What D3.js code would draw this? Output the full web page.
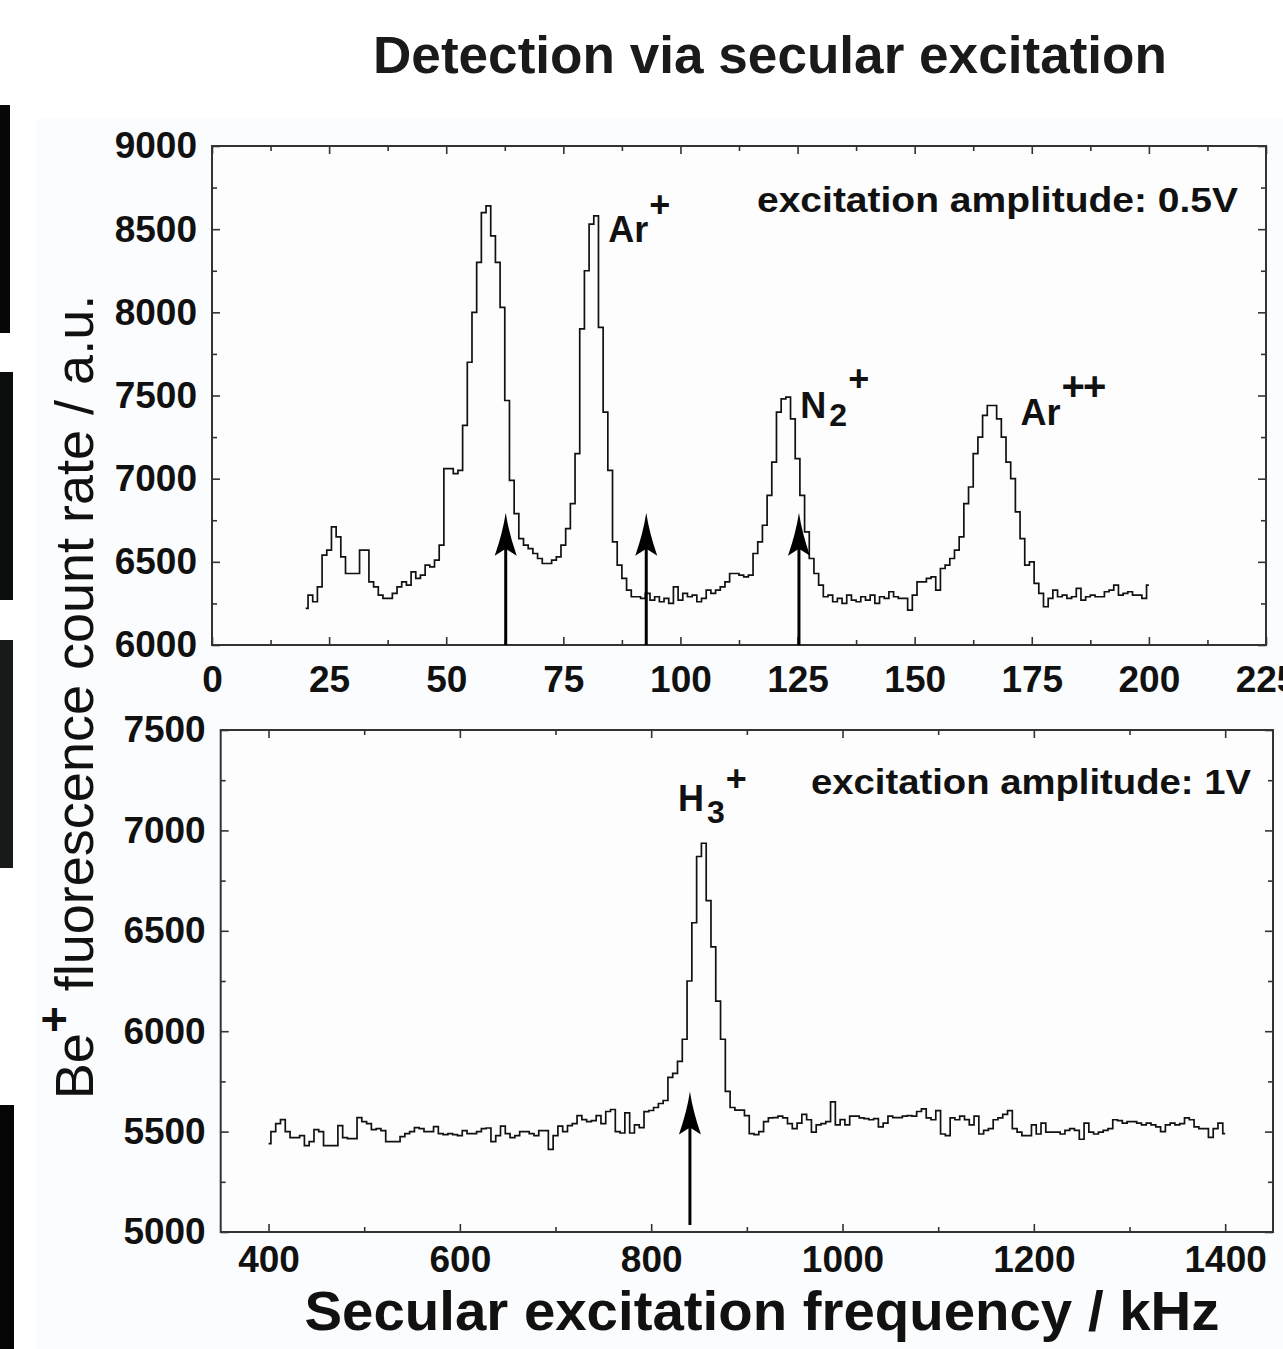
<!DOCTYPE html>
<html><head><meta charset="utf-8">
<script src="https://cdn.jsdelivr.net/npm/d3@7"></script>
<style>html,body{margin:0;padding:0;background:#fff;} svg{display:block;}</style>
</head><body>
<script>
// ---------------- data ----------------
const titleText = "Detection via secular excitation";
const xAxisTitle = "Secular excitation frequency / kHz";
const yAxisTitleParts = ["Be", "+", " fluorescence count rate / a.u."];

// top panel (excitation amplitude 0.5 V)
const topFreq = [20,21,22,23,24,25,26,27,28,29,30,31,32,33,34,35,36,37,38,39,
 40,41,42,43,44,45,46,47,48,49,50,51,52,53,54,55,56,57,58,59,
 60,61,62,63,64,65,66,67,68,69,70,71,72,73,74,75,76,77,78,79,
 80,81,82,83,84,85,86,87,88,89,90,91,92,93,94,95,96,97,98,99,
 100,101,102,103,104,105,106,107,108,109,110,111,112,113,114,115,116,117,118,119,
 120,121,122,123,124,125,126,127,128,129,130,131,132,133,134,135,136,137,138,139,
 140,141,142,143,144,145,146,147,148,149,150,151,152,153,154,155,156,157,158,159,
 160,161,162,163,164,165,166,167,168,169,170,171,172,173,174,175,176,177,178,179,
 180,181,182,183,184,185,186,187,188,189,190,191,192,193,194,195,196,197,198,199,200];
const topCounts = [6220,6300,6260,6350,6540,6570,6710,6650,6530,6430,6430,6430,6570,6570,6380,6350,6300,6280,6280,6310,
 6350,6380,6360,6440,6400,6420,6480,6470,6510,6600,7060,7060,7030,7050,7320,7700,8000,8300,8600,8640,
 8460,8300,8030,7470,6990,6790,6640,6600,6580,6550,6520,6490,6490,6510,6530,6600,6700,6850,7150,7900,
 8250,8530,8580,7910,7400,7050,6620,6480,6400,6330,6290,6290,6280,6310,6270,6290,6260,6280,6250,6350,
 6270,6310,6290,6300,6260,6280,6330,6310,6330,6350,6380,6430,6430,6420,6410,6420,6550,6620,6720,6900,
 7100,7400,7480,7490,7360,7120,6900,6680,6520,6430,6360,6290,6300,6260,6280,6250,6300,6270,6260,6290,
 6270,6300,6250,6290,6280,6320,6290,6280,6280,6210,6300,6380,6380,6400,6410,6330,6460,6480,6520,6570,
 6650,6850,6950,7150,7250,7380,7440,7440,7360,7250,7100,7000,6800,6640,6480,6500,6370,6310,6230,6280,
 6330,6290,6300,6280,6290,6340,6270,6290,6300,6290,6290,6320,6330,6360,6300,6310,6320,6300,6300,6280,6360];
const topXMajor = [0,25,50,75,100,125,150,175,200,225];
const topXMinor = [12.5,37.5,62.5,87.5,112.5,137.5,162.5,187.5,212.5];
const topYMajor = [6000,6500,7000,7500,8000,8500,9000];
const topYMinor = [6250,6750,7250,7750,8250,8750];
const topArrowFreqs = [62.7, 92.7, 125.3];
const topArrowTip = 6795;
const topNote = "excitation amplitude: 0.5V";
const topIons = [
  {base:"Ar", sub:"",  sup:"+",  f:84.6,  v:8422},
  {base:"N",  sub:"2", sup:"+",  f:125.6, v:7364},
  {base:"Ar", sub:"",  sup:"++", f:172.6, v:7322}
];

// bottom panel (excitation amplitude 1 V)
const botFreq = [400,405,410,415,420,425,430,435,440,445,450,455,460,465,470,475,480,485,490,495,
 500,505,510,515,520,525,530,535,540,545,550,555,560,565,570,575,580,585,590,595,
 600,605,610,615,620,625,630,635,640,645,650,655,660,665,670,675,680,685,690,695,
 700,705,710,715,720,725,730,735,740,745,750,755,760,765,770,775,780,785,790,795,
 800,805,810,815,820,825,830,835,840,845,850,855,860,865,870,875,880,885,890,895,
 900,905,910,915,920,925,930,935,940,945,950,955,960,965,970,975,980,985,990,995,
 1000,1005,1010,1015,1020,1025,1030,1035,1040,1045,1050,1055,1060,1065,1070,1075,1080,1085,1090,1095,
 1100,1105,1110,1115,1120,1125,1130,1135,1140,1145,1150,1155,1160,1165,1170,1175,1180,1185,1190,1195,
 1200,1205,1210,1215,1220,1225,1230,1235,1240,1245,1250,1255,1260,1265,1270,1275,1280,1285,1290,1295,
 1300,1305,1310,1315,1320,1325,1330,1335,1340,1345,1350,1355,1360,1365,1370,1375,1380,1385,1390,1395,1400];
const botCounts = [5440,5500,5540,5560,5500,5470,5470,5480,5430,5450,5510,5500,5430,5430,5430,5530,5470,5465,5465,5570,
 5550,5540,5510,5515,5505,5450,5450,5450,5475,5490,5500,5520,5515,5500,5500,5525,5490,5485,5490,5485,
 5480,5505,5490,5490,5500,5515,5518,5450,5480,5527,5490,5470,5480,5500,5500,5490,5480,5505,5505,5411,
 5480,5527,5500,5530,5540,5580,5560,5550,5555,5580,5540,5600,5610,5500,5493,5593,5493,5533,5520,5599,
 5605,5620,5640,5655,5770,5790,5850,5960,6250,6540,6870,6936,6650,6420,6150,5960,5700,5620,5607,5607,
 5580,5490,5485,5500,5550,5568,5570,5577,5568,5540,5515,5542,5586,5559,5497,5533,5540,5550,5648,5533,
 5560,5533,5577,5577,5568,5565,5559,5565,5524,5542,5577,5570,5570,5577,5580,5577,5600,5613,5568,5559,
 5604,5488,5480,5568,5559,5577,5560,5533,5577,5488,5506,5515,5559,5568,5586,5604,5515,5497,5480,5480,
 5533,5488,5542,5497,5497,5497,5488,5506,5515,5506,5462,5542,5497,5488,5497,5506,5515,5559,5555,5542,
 5550,5550,5542,5533,5542,5533,5524,5500,5533,5542,5533,5540,5568,5559,5524,5515,5515,5471,5515,5542,5490];
const botXMajor = [400,600,800,1000,1200,1400];
const botXMinor = [500,700,900,1100,1300];
const botYMajor = [5000,5500,6000,6500,7000,7500];
const botYMinor = [5250,5750,6250,6750,7250];
const botArrowFreqs = [840.5];
const botArrowTip = 5700;
const botArrowTail = 5035;
const botNote = "excitation amplitude: 1V";
const botIons = [{base:"H", sub:"3", sup:"+", f:828, v:7095}];

// ---------------- drawing ----------------
const W = 1283, H = 1349;
const FONT = "'Liberation Sans', Arial, Helvetica, sans-serif";
const svg = d3.select("body").append("svg").attr("width", W).attr("height", H)
  .style("font-family", FONT);

svg.append("rect").attr("width", W).attr("height", H).attr("fill", "#ffffff");
svg.append("rect").attr("x", 36).attr("y", 118).attr("width", W - 36).attr("height", H - 118).attr("fill", "#fbfcfd");

// dark strips at the left edge (scan artefacts)
const strips = [
  {x:0, y:105, w:10, h:228, c:"#070707"},
  {x:0, y:372, w:13, h:228, c:"#0b0d0d"},
  {x:0, y:640, w:13, h:228, c:"#181a1a"},
  {x:0, y:1105, w:14, h:244, c:"#050505"}
];
svg.selectAll("rect.strip").data(strips).join("rect").attr("class", "strip")
  .attr("x", d => d.x).attr("y", d => d.y).attr("width", d => d.w).attr("height", d => d.h).attr("fill", d => d.c);

// title
svg.append("text").attr("x", 770).attr("y", 73).attr("text-anchor", "middle")
  .attr("font-size", 51).attr("font-weight", "bold").attr("fill", "#1a1a1a")
  .attr("textLength", 794).attr("lengthAdjust", "spacingAndGlyphs").text(titleText);

function panel(cfg) {
  const x = d3.scaleLinear().domain(cfg.xDomain).range([cfg.left, cfg.right]);
  const y = d3.scaleLinear().domain(cfg.yDomain).range([cfg.bottom, cfg.top]);
  const g = svg.append("g");

  g.append("rect").attr("x", cfg.left).attr("y", cfg.top)
    .attr("width", cfg.right - cfg.left).attr("height", cfg.bottom - cfg.top)
    .attr("fill", "#fdfdfe");

  const styleAxis = sel => {
    sel.select(".domain").remove();
    sel.selectAll(".tick line").attr("stroke", "#333").attr("stroke-width", 1.6);
    sel.selectAll(".tick text").attr("font-size", 37).attr("font-weight", "bold")
      .attr("fill", "#111").attr("font-family", FONT);
  };
  // bottom axis with labels
  g.append("g").attr("transform", `translate(0,${cfg.bottom})`)
    .call(d3.axisBottom(x).tickValues(cfg.xMajor).tickSize(-8).tickPadding(cfg.xPad).tickFormat(d3.format("d")))
    .call(styleAxis);
  g.append("g").attr("transform", `translate(0,${cfg.bottom})`)
    .call(d3.axisBottom(x).tickValues(cfg.xMinor).tickSize(-5).tickFormat(""))
    .call(styleAxis);
  // top axis
  g.append("g").attr("transform", `translate(0,${cfg.top})`)
    .call(d3.axisTop(x).tickValues(cfg.xMajor).tickSize(-8).tickFormat(""))
    .call(styleAxis);
  g.append("g").attr("transform", `translate(0,${cfg.top})`)
    .call(d3.axisTop(x).tickValues(cfg.xMinor).tickSize(-5).tickFormat(""))
    .call(styleAxis);
  // left axis with labels
  g.append("g").attr("transform", `translate(${cfg.left},0)`)
    .call(d3.axisLeft(y).tickValues(cfg.yMajor).tickSize(-8).tickPadding(15).tickFormat(d3.format("d")))
    .call(styleAxis);
  g.append("g").attr("transform", `translate(${cfg.left},0)`)
    .call(d3.axisLeft(y).tickValues(cfg.yMinor).tickSize(-5).tickFormat(""))
    .call(styleAxis);
  // right axis
  g.append("g").attr("transform", `translate(${cfg.right},0)`)
    .call(d3.axisRight(y).tickValues(cfg.yMajor).tickSize(-8).tickFormat(""))
    .call(styleAxis);
  g.append("g").attr("transform", `translate(${cfg.right},0)`)
    .call(d3.axisRight(y).tickValues(cfg.yMinor).tickSize(-5).tickFormat(""))
    .call(styleAxis);

  // frame
  g.append("rect").attr("x", cfg.left).attr("y", cfg.top)
    .attr("width", cfg.right - cfg.left).attr("height", cfg.bottom - cfg.top)
    .attr("fill", "none").attr("stroke", "#333").attr("stroke-width", 2);

  // spectrum (step line)
  const pts = d3.zip(cfg.freq, cfg.counts);
  g.append("path").datum(pts)
    .attr("d", d3.line().x(d => x(d[0])).y(d => y(d[1])).curve(d3.curveStep))
    .attr("fill", "none").attr("stroke", "#111").attr("stroke-width", 1.7)
    .attr("stroke-linejoin", "miter");

  // arrows
  cfg.arrows.forEach(f => {
    const ax = x(f), tipY = y(cfg.arrowTip), tailY = y(cfg.arrowTail);
    g.append("line").attr("x1", ax).attr("x2", ax).attr("y1", tailY).attr("y2", tipY + 30)
      .attr("stroke", "#000").attr("stroke-width", 3);
    g.append("path")
      .attr("d", `M${ax},${tipY} Q${ax + 3},${tipY + 20} ${ax + 11},${tipY + 43} L${ax},${tipY + 36} L${ax - 11},${tipY + 43} Q${ax - 3},${tipY + 20} ${ax},${tipY} Z`)
      .attr("fill", "#000");
  });

  // ion labels
  cfg.ions.forEach(d => {
    const t = g.append("text").attr("x", x(d.f)).attr("y", y(d.v))
      .attr("font-size", 36).attr("font-weight", "bold").attr("fill", "#111");
    t.append("tspan").text(d.base);
    if (d.sub) {
      t.append("tspan").attr("dy", cfg.subDy).attr("dx", 3).attr("font-size", 32).text(d.sub);
      t.append("tspan").attr("dy", cfg.supDySub).attr("dx", 1).attr("font-size", 36)
        .attr("letter-spacing", d.sup.length > 1 ? -2 : 0).text(d.sup);
    } else {
      t.append("tspan").attr("dy", cfg.supDy).attr("dx", 1).attr("font-size", d.sup.length > 1 ? 40 : 36)
        .attr("letter-spacing", d.sup.length > 1 ? -2 : 0).text(d.sup);
    }
  });

  // note
  g.append("text").attr("x", cfg.noteX).attr("y", cfg.noteY).attr("text-anchor", "end")
    .attr("font-size", 35).attr("font-weight", "bold").attr("fill", "#111")
    .attr("textLength", cfg.noteW).attr("lengthAdjust", "spacingAndGlyphs").text(cfg.note);
  return {x, y};
}

panel({
  xDomain:[0,225], yDomain:[6000,9000], left:212, right:1266, top:146, bottom:645,
  xMajor:topXMajor, xMinor:topXMinor, yMajor:topYMajor, yMinor:topYMinor, xPad:21,
  freq:topFreq, counts:topCounts, arrows:topArrowFreqs, arrowTip:topArrowTip, arrowTail:6000,
  ions:topIons, subDy:8, supDySub:-35, supDy:-25,
  note:topNote, noteX:1238, noteY:212, noteW:481
});
panel({
  xDomain:[350,1450], yDomain:[5000,7500], left:220.7, right:1273, top:730, bottom:1232,
  xMajor:botXMajor, xMinor:botXMinor, yMajor:botYMajor, yMinor:botYMinor, xPad:14,
  freq:botFreq, counts:botCounts, arrows:botArrowFreqs, arrowTip:botArrowTip, arrowTail:botArrowTail,
  ions:botIons, subDy:12, supDySub:-32, supDy:-25,
  note:botNote, noteX:1251, noteY:794, noteW:440
});

// axis titles
svg.append("text").attr("x", 762).attr("y", 1330).attr("text-anchor", "middle")
  .attr("font-size", 56).attr("font-weight", "bold").attr("fill", "#111")
  .attr("textLength", 915).attr("lengthAdjust", "spacingAndGlyphs").text(xAxisTitle);

const yt = svg.append("text").attr("transform", "translate(93,697) rotate(-90)")
  .attr("text-anchor", "middle").attr("font-size", 54).attr("fill", "#111");
yt.append("tspan").text(yAxisTitleParts[0]);
yt.append("tspan").attr("dy", -23).attr("font-weight", "bold").attr("font-size", 46).text(yAxisTitleParts[1]);
yt.append("tspan").attr("dy", 23).text(yAxisTitleParts[2]);
</script>
</body></html>
